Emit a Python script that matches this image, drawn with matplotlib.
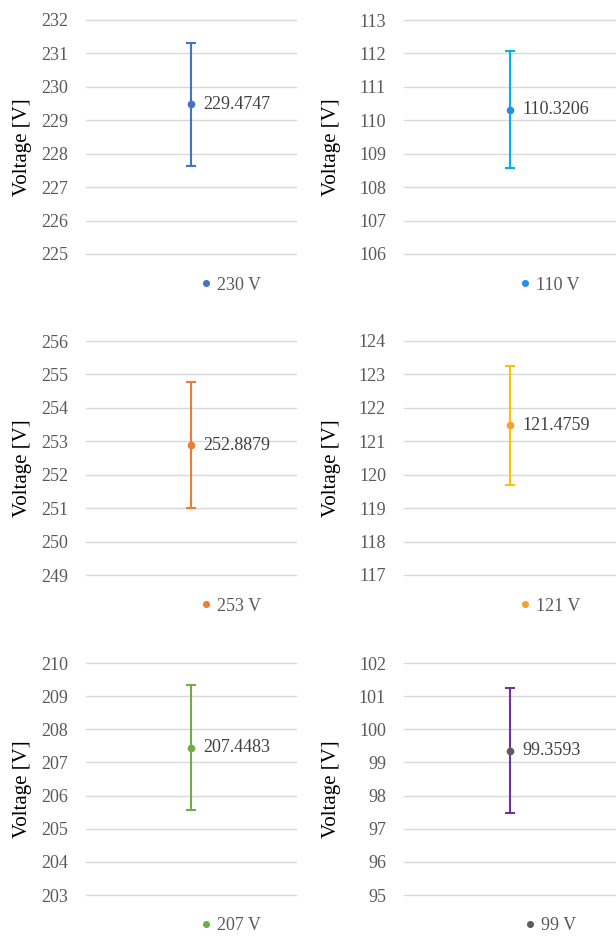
import matplotlib
matplotlib.use("Agg")
import matplotlib.pyplot as plt
import numpy as np

plt.rcParams["font.family"] = ["Liberation Serif", "DejaVu Serif"]

# ===================== 数据 =====================
nominal_labels = ["230 V", "110 V", "253 V", "121 V", "207 V", "99 V"]
mean_values = [229.4747, 110.3206, 252.8879, 121.4759, 207.4483, 99.3593]
error_values = [1.83, 1.76, 1.88, 1.77, 1.88, 1.88]
y_min = [225, 106, 249, 117, 203, 95]
y_max = [232, 113, 256, 124, 210, 102]
bar_colors = ["#4472C4", "#00B0F0", "#ED7D31", "#FFC000", "#70AD47", "#7030A0"]
marker_colors = ["#4472C4", "#2B8CE8", "#ED7D31", "#F5A32A", "#70AD47", "#5F5A68"]
# ================================================

fig = plt.figure(figsize=(6.16, 9.36), dpi=100)

W, H = 616, 936
col_left = [86, 404]
col_width = [210, 212]
row_top = [20, 341, 663]
row_bottom = [254, 575, 895]
label_x = [-0.257, -0.297]

for i in range(6):
    r, c = divmod(i, 2)
    left = col_left[c] / W
    width = col_width[c] / W
    bottom = 1 - row_bottom[r] / H
    height = (row_bottom[r] - row_top[r]) / H
    ax = fig.add_axes([left, bottom, width, height])

    ax.errorbar([1], [mean_values[i]], yerr=[error_values[i]], fmt="none",
                ecolor=bar_colors[i], elinewidth=1.5, capsize=3.5, capthick=1.5,
                zorder=3)
    ax.plot([1], [mean_values[i]], "o", color=marker_colors[i], markersize=4.5,
            zorder=4, label=nominal_labels[i])
    ax.annotate(f"{mean_values[i]:.4f}", (1, mean_values[i]), xytext=(9, 0),
                textcoords="offset points", va="center", ha="left",
                fontsize=13, color="#404040")

    ax.set_xlim(0, 2)
    ax.set_ylim(y_min[i], y_max[i])
    ax.set_yticks(np.arange(y_min[i], y_max[i] + 1, 1))
    ax.set_xticks([])
    ax.grid(axis="y", color="#D9D9D9", linewidth=1.0)
    for gl in ax.get_ygridlines():
        gl.set_clip_on(False)
    ax.set_axisbelow(True)
    for s in ax.spines.values():
        s.set_visible(False)
    ax.tick_params(axis="y", length=0, pad=13, labelsize=13, labelcolor="#595959")
    ax.set_ylabel("Voltage [V]", fontsize=15, color="black")
    ax.yaxis.set_label_coords(label_x[c], 0.457)

    leg = ax.legend(loc="center", bbox_to_anchor=(0.68, -0.133), frameon=False,
                    fontsize=13, handletextpad=0.1, handlelength=1.0,
                    borderaxespad=0, markerscale=0.9)
    for t in leg.get_texts():
        t.set_color("#595959")

fig.savefig("out.png", dpi=100)
plt.close(fig)
